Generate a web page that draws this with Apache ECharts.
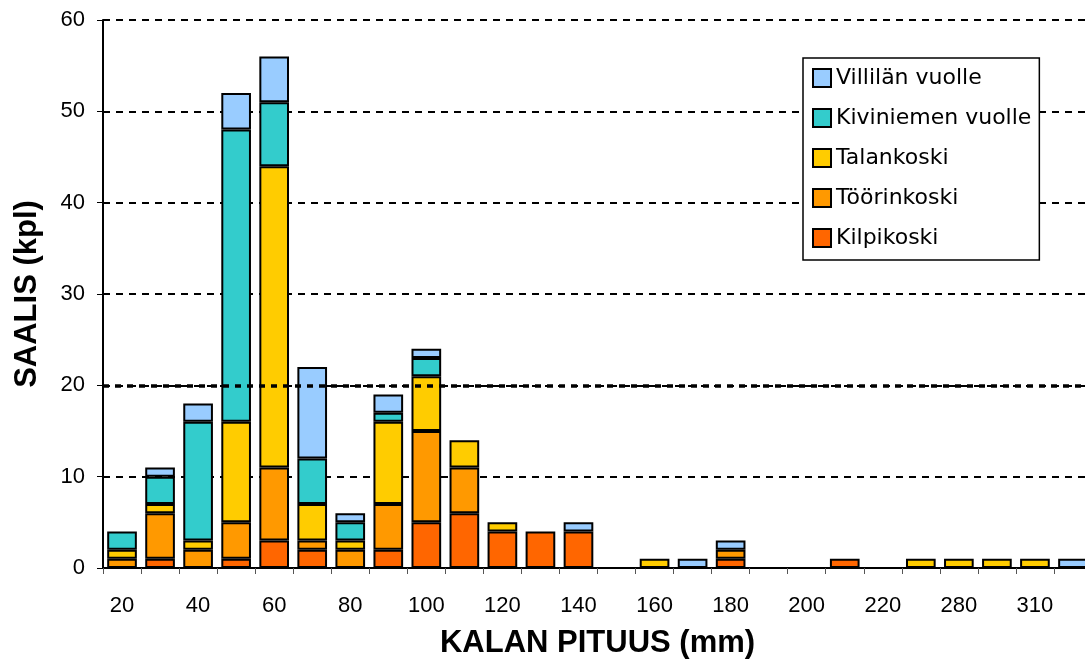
<!DOCTYPE html>
<html>
<head>
<meta charset="utf-8">
<script src="https://cdn.jsdelivr.net/npm/echarts@6/dist/echarts.min.js"></script>
<style>html,body{margin:0;padding:0;background:#fff}#c{width:1085px;height:663px}</style>
</head>
<body>
<div id="c"></div>
<script>
const categories = ['20','30','40','50','60','70','80','90','100','110','120','130','140','150','160','170','180','190','200','210','220','250','280','290','310','320'];
const kilpikoski  = [0,1,0,1,3,2,0,2,5,6,4,4,4,0,0,0,1,0,0,1,0,0,0,0,0,0];
const toorinkoski = [1,5,2,4,8,1,2,5,10,5,0,0,0,0,0,0,1,0,0,0,0,0,0,0,0,0];
const talankoski  = [1,1,1,11,33,4,1,9,6,3,1,0,0,0,1,0,0,0,0,0,0,1,1,1,1,0];
const kiviniemi   = [2,3,13,32,7,5,2,1,2,0,0,0,0,0,0,0,0,0,0,0,0,0,0,0,0,0];
const villila     = [0,1,2,4,5,10,1,2,1,0,0,0,1,0,0,1,1,0,0,0,0,0,0,0,0,1];
const yTicks = [0,10,20,30,40,50,60];

const seriesDefs = [
  {name:'Kilpikoski', data:kilpikoski, color:'#FF6600'},
  {name:'Töörinkoski', data:toorinkoski, color:'#FF9900'},
  {name:'Talankoski', data:talankoski, color:'#FFCC00'},
  {name:'Kiviniemen vuolle', data:kiviniemi, color:'#33CCCC'},
  {name:'Villilän vuolle', data:villila, color:'#99CCFF'}
];
const FONT = '"Liberation Sans", Arial, sans-serif';
const WIDE = '"DejaVu Sans", sans-serif';
const chart = echarts.init(document.getElementById('c'));
const series = seriesDefs.map(s => ({
  name: s.name, type: 'bar', stack: 'all',
  data: s.data.map(v => v === 0 ? null : v),
  barCategoryGap: '22%',
  itemStyle: {color: s.color, borderColor: '#000', borderWidth: 2},
  emphasis: {disabled: true},
  z: 2
}));
series.push({
  name: 'grid20', type: 'line', data: [], z: 1, silent: true,
  markLine: {
    silent: true, symbol: 'none', label: {show: false},
    lineStyle: {color: '#000', width: 3.5, type: [6, 6]},
    data: [{yAxis: yTicks[2]}]
  }
});
chart.setOption({
  backgroundColor: '#fff',
  animation: false,
  textStyle: {fontFamily: FONT},
  grid: {left: 103, top: 20, bottom: 95, width: 989, outerBoundsMode: 'none', containLabel: false},
  legend: {
    data: seriesDefs.map(s => s.name).reverse(),
    orient: 'vertical', left: 803, top: 58,
    backgroundColor: '#fff', borderColor: '#000', borderWidth: 1.5,
    padding: [8, 8, 10, 9],
    itemWidth: 18, itemHeight: 18, itemGap: 16,
    icon: 'rect',
    textStyle: {fontFamily: WIDE, fontSize: 22, color: '#000', lineHeight: 24}
  },
  xAxis: {
    type: 'category', data: categories,
    name: 'KALAN PITUUS (mm)', nameLocation: 'middle', nameGap: 60,
    nameTextStyle: {fontFamily: FONT, fontSize: 31, fontWeight: 'bold', color: '#000'},
    axisLine: {lineStyle: {color: '#000', width: 2}},
    axisTick: {show: true, interval: 0, length: 6, lineStyle: {color: '#555', width: 1}},
    axisLabel: {interval: 1, fontSize: 22, color: '#000', margin: 27, fontFamily: FONT},
    splitLine: {show: false}
  },
  yAxis: {
    type: 'value', min: yTicks[0], max: yTicks[yTicks.length-1], interval: 10,
    name: 'SAALIS (kpl)', nameLocation: 'middle', nameGap: 60,
    nameTextStyle: {fontFamily: FONT, fontSize: 31, fontWeight: 'bold', color: '#000'},
    axisLine: {show: true, lineStyle: {color: '#000', width: 2}},
    axisTick: {show: true, length: 6, lineStyle: {color: '#000', width: 1}},
    axisLabel: {fontSize: 22, color: '#000', margin: 18, fontFamily: FONT},
    splitLine: {show: true, lineStyle: {color: '#000', width: 2, type: [7, 6]}}
  },
  series: series
});
</script>
</body>
</html>
